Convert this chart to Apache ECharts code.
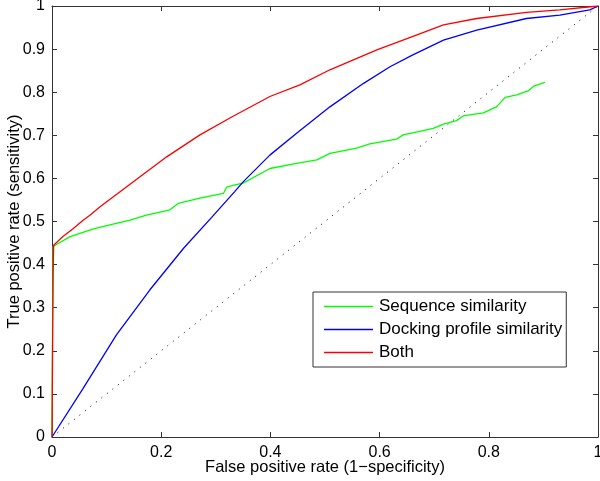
<!DOCTYPE html>
<html>
<head>
<meta charset="utf-8">
<script src="https://cdn.jsdelivr.net/npm/echarts@6/dist/echarts.min.js"></script>
<style>html,body{margin:0;padding:0;background:#fff}#c{width:600px;height:481px}</style>
</head>
<body>
<div id="c"></div>
<script>
const seqX = [0, 0.001, 0.002, 0.033, 0.076, 0.106, 0.143, 0.173, 0.216, 0.231, 0.271, 0.314, 0.320, 0.335, 0.350, 0.399, 0.448, 0.485, 0.509, 0.558, 0.582, 0.631, 0.643, 0.665, 0.698, 0.717, 0.741, 0.753, 0.790, 0.814, 0.830, 0.851, 0.872, 0.882, 0.903];
const seqY = [0, 0.25, 0.442, 0.465, 0.483, 0.492, 0.503, 0.515, 0.527, 0.542, 0.554, 0.565, 0.580, 0.585, 0.589, 0.623, 0.635, 0.643, 0.658, 0.670, 0.680, 0.691, 0.701, 0.707, 0.716, 0.726, 0.734, 0.745, 0.752, 0.766, 0.788, 0.794, 0.803, 0.814, 0.823];
const dockX = [0, 0.057, 0.118, 0.179, 0.241, 0.292, 0.335, 0.350, 0.399, 0.448, 0.509, 0.570, 0.619, 0.660, 0.717, 0.778, 0.869, 0.930, 0.985, 1];
const dockY = [0, 0.113, 0.237, 0.341, 0.438, 0.509, 0.570, 0.592, 0.654, 0.705, 0.766, 0.820, 0.859, 0.886, 0.921, 0.944, 0.971, 0.979, 0.991, 1];
const bothX = [0, 0.001, 0.002, 0.003, 0.020, 0.039, 0.057, 0.070, 0.088, 0.149, 0.210, 0.271, 0.330, 0.399, 0.454, 0.509, 0.595, 0.660, 0.717, 0.778, 0.869, 0.930, 1];
const bothY = [0, 0.2, 0.38, 0.445, 0.465, 0.484, 0.503, 0.515, 0.534, 0.592, 0.650, 0.701, 0.743, 0.790, 0.817, 0.852, 0.898, 0.929, 0.956, 0.971, 0.985, 0.991, 1];
const diagX = [0, 1];
const diagY = [0, 1];
const names = ['Sequence similarity', 'Docking profile similarity', 'Both'];

const zip = (xs, ys) => xs.map((x, i) => [x, ys[i]]);
const font = 'Liberation Sans, Arial, Helvetica, sans-serif';
const axisCol = '#333';
const fmt = v => (Math.abs(v - Math.round(v)) < 1e-9 ? String(Math.round(v)) : String(+v.toFixed(1)));

const chart = echarts.init(document.getElementById('c'), null, {renderer: 'canvas'});
const baseAxis = {
  type: 'value', min: 0, max: 1,
  axisLine: {show: true, onZero: false, lineStyle: {color: axisCol, width: 1}},
  axisTick: {show: true, inside: true, length: 5, lineStyle: {color: axisCol}},
  splitLine: {show: false},
};
chart.setOption({
  animation: false,
  backgroundColor: '#fff',
  grid: {left: 52, right: 2, top: 6, bottom: 44, containLabel: false, outerBoundsMode: 'none'},
  xAxis: [
    Object.assign({}, baseAxis, {
      position: 'bottom', interval: 0.2,
      axisLabel: {color: '#000', fontSize: 16, fontFamily: font, margin: 8, formatter: fmt},
      name: 'False positive rate (1\u2212specificity)', nameLocation: 'middle', nameGap: 22,
      nameMoveOverlap: false,
      nameTextStyle: {color: '#000', fontSize: 16.5, fontFamily: font}
    }),
    Object.assign({}, baseAxis, {position: 'top', interval: 0.2, axisLabel: {show: false}})
  ],
  yAxis: [
    Object.assign({}, baseAxis, {
      position: 'left', interval: 0.1,
      axisLabel: {color: '#000', fontSize: 16, fontFamily: font, margin: 7, formatter: fmt},
      name: 'True positive rate (sensitivity)', nameLocation: 'middle', nameGap: 29,
      nameMoveOverlap: false,
      nameTextStyle: {color: '#000', fontSize: 16.5, fontFamily: font}
    }),
    Object.assign({}, baseAxis, {position: 'right', interval: 0.1, axisLabel: {show: false}})
  ],
  legend: {
    orient: 'vertical', left: 313, top: 292,
    data: names,
    icon: 'rect', itemWidth: 49, itemHeight: 1.5, itemGap: 6,
    padding: [6, 4, 6, 11],
    borderColor: '#333', borderWidth: 1, backgroundColor: '#fff',
    textStyle: {color: '#000', fontSize: 17, fontFamily: font, padding: [0, 0, 0, 1]}
  },
  series: [
    {name: 'diag', type: 'line', data: zip(diagX, diagY), showSymbol: false, silent: true,
     lineStyle: {color: '#000', width: 1, type: [1, 6]}, z: 1},
    {name: names[0], type: 'line', data: zip(seqX, seqY), showSymbol: false, color: '#00ff00',
     lineStyle: {color: '#00ff00', width: 1.3}, z: 2},
    {name: names[1], type: 'line', data: zip(dockX, dockY), showSymbol: false, color: '#0000ff',
     lineStyle: {color: '#0000ff', width: 1.3}, z: 3},
    {name: names[2], type: 'line', data: zip(bothX, bothY), showSymbol: false, color: '#ff0000',
     lineStyle: {color: '#ff0000', width: 1.3}, z: 4}
  ]
});
</script>
</body>
</html>
